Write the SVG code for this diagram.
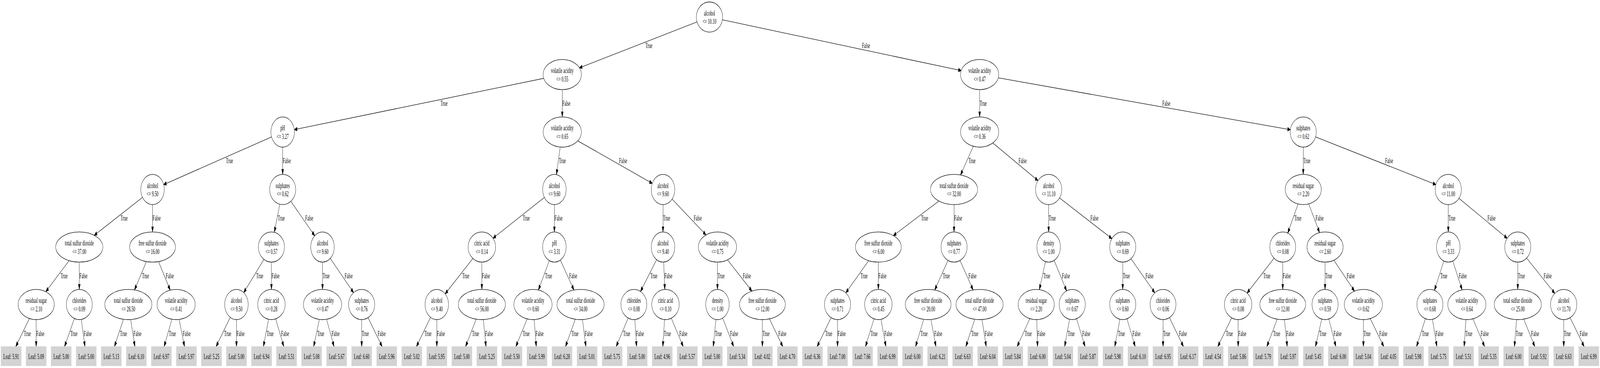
<svg xmlns="http://www.w3.org/2000/svg" width="7667" height="943" viewBox="0 0 7667 943" preserveAspectRatio="none">
<style>
:root{width:100vw;height:100vh}
text{font-family:"Liberation Serif","Times New Roman",serif;font-size:18.2px;fill:#000}
.n ellipse{fill:#fff;stroke:#000;stroke-width:1.3}
.n text,.lf text{text-anchor:middle}
.lf rect{fill:#d3d3d3;stroke:#d3d3d3;stroke-width:1.3}
#edges path{fill:none;stroke:#000;stroke-width:1.3;marker-end:url(#ah)}
#edges text{text-anchor:start}
</style>
<defs>
<marker id="ah" markerUnits="userSpaceOnUse" viewBox="0 -6 14 12" refX="13" refY="0" markerWidth="14" markerHeight="12" orient="auto" overflow="visible">
<path d="M0,-4.55 L13,0 L0,4.55 Z" fill="#000" stroke="#000" stroke-width="1.3"/>
</marker>
</defs>
<rect width="7667" height="943" fill="#fff"/>
<g id="edges">
<path d="M3399.7,43.7 L2776.35,173.87"/><text x="3092.5" y="123.35">True</text>
<path d="M3399.7,43.7 L4606.04,180.95"/><text x="4130.6" y="123.35">False</text>
<path d="M2694.3,191 L1410.39,332.17"/><text x="2110.9" y="270.65">True</text>
<path d="M2694.3,191 L2694.3,299.6"/><text x="2694.8" y="270.65">False</text>
<path d="M4694.4,191 L4694.4,299.6"/><text x="4694.9" y="270.65">True</text>
<path d="M4694.4,191 L6183.22,332.43"/><text x="5569.7" y="270.65">False</text>
<path d="M1354.6,338.3 L783.99,473.08"/><text x="1083" y="417.95">True</text>
<path d="M1354.6,338.3 L1354.6,446.9"/><text x="1355.1" y="417.95">False</text>
<path d="M2694.3,338.3 L2666.35,447.49"/><text x="2677.9" y="417.95">True</text>
<path d="M2694.3,338.3 L3125.77,469.97"/><text x="2966.8" y="417.95">False</text>
<path d="M4694.4,338.3 L4602.7,448.38"/><text x="4641" y="417.95">True</text>
<path d="M4694.4,338.3 L4974,462.88"/><text x="4881" y="417.95">False</text>
<path d="M6245,338.3 L6245,446.9"/><text x="6245.5" y="417.95">True</text>
<path d="M6245,338.3 L6880.45,472.98"/><text x="6637.3" y="417.95">False</text>
<path d="M731,485.6 L451.45,603.02"/><text x="578.1" y="565.25">True</text>
<path d="M731,485.6 L731,594.3"/><text x="731.5" y="565.25">False</text>
<path d="M1354.6,485.6 L1314.51,595.26"/><text x="1331.1" y="565.25">True</text>
<path d="M1354.6,485.6 L1508.14,604.17"/><text x="1462.4" y="565.25">False</text>
<path d="M2656.6,485.6 L2362.38,610.38"/><text x="2505.2" y="565.25">True</text>
<path d="M2656.6,485.6 L2656.6,594.3"/><text x="2657.1" y="565.25">False</text>
<path d="M3177,485.6 L3177,594.3"/><text x="3177.5" y="565.25">True</text>
<path d="M3177,485.6 L3383.13,602.03"/><text x="3324.3" y="565.25">False</text>
<path d="M4571.7,485.6 L4280.97,603.77"/><text x="4413.7" y="565.25">True</text>
<path d="M4571.7,485.6 L4571.7,594.3"/><text x="4572.2" y="565.25">False</text>
<path d="M5025,485.6 L5025,594.3"/><text x="5025.5" y="565.25">True</text>
<path d="M5025,485.6 L5328.08,611.46"/><text x="5225.4" y="565.25">False</text>
<path d="M6245,485.6 L6170.62,597.27"/><text x="6202.2" y="565.25">True</text>
<path d="M6245,485.6 L6323.33,596.11"/><text x="6304" y="565.25">False</text>
<path d="M6940,485.6 L6940,594.3"/><text x="6940.5" y="565.25">True</text>
<path d="M6940,485.6 L7222.14,610.5"/><text x="7128" y="565.25">False</text>
<path d="M380,633 L219.46,747.52"/><text x="290.1" y="712.65">True</text>
<path d="M380,633 L380,741.6"/><text x="380.5" y="712.65">False</text>
<path d="M731,633 L644.43,742.93"/><text x="680.5" y="712.65">True</text>
<path d="M731,633 L815.76,743.49"/><text x="794.8" y="712.65">False</text>
<path d="M1300.7,633 L1167.63,749.89"/><text x="1227.7" y="712.65">True</text>
<path d="M1300.7,633 L1300.7,741.6"/><text x="1301.2" y="712.65">False</text>
<path d="M1545.5,633 L1545.5,741.6"/><text x="1546" y="712.65">True</text>
<path d="M1545.5,633 L1694.31,749.91"/><text x="1651.3" y="712.65">False</text>
<path d="M2309,633 L2132.86,753.12"/><text x="2214.9" y="712.65">True</text>
<path d="M2309,633 L2309,741.6"/><text x="2309.5" y="712.65">False</text>
<path d="M2656.6,633 L2579.86,743.18"/><text x="2611.9" y="712.65">True</text>
<path d="M2656.6,633 L2750.37,743.15"/><text x="2727.4" y="712.65">False</text>
<path d="M3177,633 L3069.05,746.99"/><text x="3116.3" y="712.65">True</text>
<path d="M3177,633 L3185.85,741.64"/><text x="3183.8" y="712.65">False</text>
<path d="M3438,633 L3438,741.6"/><text x="3438.5" y="712.65">True</text>
<path d="M3438,633 L3603.18,745.9"/><text x="3559.7" y="712.65">False</text>
<path d="M4209,633 L4053.01,750.41"/><text x="4123.8" y="712.65">True</text>
<path d="M4209,633 L4209,741.6"/><text x="4209.5" y="712.65">False</text>
<path d="M4571.7,633 L4478.93,743.2"/><text x="4517.7" y="712.65">True</text>
<path d="M4571.7,633 L4663.09,743.07"/><text x="4640.7" y="712.65">False</text>
<path d="M5025,633 L4980.5,742.24"/><text x="4999" y="712.65">True</text>
<path d="M5025,633 L5111.18,745.34"/><text x="5088.8" y="712.65">False</text>
<path d="M5380,633 L5380,741.6"/><text x="5380.5" y="712.65">True</text>
<path d="M5380,633 L5533.75,750.34"/><text x="5489" y="712.65">False</text>
<path d="M6146.8,633 L5975.72,750.87"/><text x="6053.7" y="712.65">True</text>
<path d="M6146.8,633 L6146.8,741.6"/><text x="6147.3" y="712.65">False</text>
<path d="M6349.5,633 L6349.5,741.6"/><text x="6350" y="712.65">True</text>
<path d="M6349.5,633 L6490.51,746.07"/><text x="6453.2" y="712.65">False</text>
<path d="M6940,633 L6873.68,744"/><text x="6901.7" y="712.65">True</text>
<path d="M6940,633 L7006.35,742.8"/><text x="6990.2" y="712.65">False</text>
<path d="M7273,633 L7273,741.6"/><text x="7273.5" y="712.65">True</text>
<path d="M7273,633 L7450.41,751.78"/><text x="7397.2" y="712.65">False</text>
<path d="M173.5,780.3 L75.45,888.2"/><text x="114.3" y="861">True</text>
<path d="M173.5,780.3 L173.4,888.2"/><text x="173.9" y="861">False</text>
<path d="M380,780.3 L309.28,888.2"/><text x="337.3" y="861">True</text>
<path d="M380,780.3 L407.16,888.2"/><text x="401.2" y="861">False</text>
<path d="M615,780.3 L548.36,888.2"/><text x="574.8" y="861">True</text>
<path d="M615,780.3 L646.24,888.2"/><text x="639.4" y="861">False</text>
<path d="M844,780.3 L786.33,888.2"/><text x="809.2" y="861">True</text>
<path d="M844,780.3 L884.21,888.2"/><text x="875.4" y="861">False</text>
<path d="M1133,780.3 L1035.36,888.2"/><text x="1074.1" y="861">True</text>
<path d="M1133,780.3 L1133.24,888.2"/><text x="1133.7" y="861">False</text>
<path d="M1300.7,780.3 L1262.04,888.2"/><text x="1277.4" y="861">True</text>
<path d="M1300.7,780.3 L1359.92,888.2"/><text x="1346.9" y="861">False</text>
<path d="M1545.5,780.3 L1502.92,888.2"/><text x="1519.8" y="861">True</text>
<path d="M1545.5,780.3 L1600.8,888.2"/><text x="1588.6" y="861">False</text>
<path d="M1733,780.3 L1733.24,888.2"/><text x="1733.7" y="861">True</text>
<path d="M1733,780.3 L1831.13,888.2"/><text x="1809.5" y="861">False</text>
<path d="M2093,780.3 L1995.36,888.2"/><text x="2034.1" y="861">True</text>
<path d="M2093,780.3 L2093.24,888.2"/><text x="2093.7" y="861">False</text>
<path d="M2309,780.3 L2230.94,888.2"/><text x="2261.9" y="861">True</text>
<path d="M2309,780.3 L2328.82,888.2"/><text x="2324.5" y="861">False</text>
<path d="M2554,780.3 L2471.86,888.2"/><text x="2504.4" y="861">True</text>
<path d="M2554,780.3 L2569.74,888.2"/><text x="2566.3" y="861">False</text>
<path d="M2782,780.3 L2709.65,888.2"/><text x="2738.3" y="861">True</text>
<path d="M2782,780.3 L2807.53,888.2"/><text x="2801.9" y="861">False</text>
<path d="M3037.5,780.3 L2952.5,888.2"/><text x="2986.2" y="861">True</text>
<path d="M3037.5,780.3 L3050.39,888.2"/><text x="3047.6" y="861">False</text>
<path d="M3189,780.3 L3176.19,888.2"/><text x="3181.3" y="861">True</text>
<path d="M3189,780.3 L3274.08,888.2"/><text x="3255.3" y="861">False</text>
<path d="M3438,780.3 L3417.85,888.2"/><text x="3425.8" y="861">True</text>
<path d="M3438,780.3 L3515.74,888.2"/><text x="3498.6" y="861">False</text>
<path d="M3653.5,780.3 L3653.34,888.2"/><text x="3653.9" y="861">True</text>
<path d="M3653.5,780.3 L3751.22,888.2"/><text x="3729.7" y="861">False</text>
<path d="M4013.3,780.3 L3915.42,888.2"/><text x="3954.2" y="861">True</text>
<path d="M4013.3,780.3 L4013.3,888.2"/><text x="4013.8" y="861">False</text>
<path d="M4209,780.3 L4147.25,888.2"/><text x="4171.7" y="861">True</text>
<path d="M4209,780.3 L4245.14,888.2"/><text x="4237.2" y="861">False</text>
<path d="M4447.7,780.3 L4387.01,888.2"/><text x="4411.1" y="861">True</text>
<path d="M4447.7,780.3 L4484.9,888.2"/><text x="4476.7" y="861">False</text>
<path d="M4694,780.3 L4628.17,888.2"/><text x="4654.3" y="861">True</text>
<path d="M4694,780.3 L4726.06,888.2"/><text x="4719" y="861">False</text>
<path d="M4965.5,780.3 L4874,888.2"/><text x="4910.2" y="861">True</text>
<path d="M4965.5,780.3 L4971.9,888.2"/><text x="4970.5" y="861">False</text>
<path d="M5138,780.3 L5101.54,888.2"/><text x="5116" y="861">True</text>
<path d="M5138,780.3 L5199.42,888.2"/><text x="5185.9" y="861">False</text>
<path d="M5380,780.3 L5341.91,888.2"/><text x="5357" y="861">True</text>
<path d="M5380,780.3 L5439.79,888.2"/><text x="5426.6" y="861">False</text>
<path d="M5573,780.3 L5573.24,888.2"/><text x="5573.7" y="861">True</text>
<path d="M5573,780.3 L5671.13,888.2"/><text x="5649.5" y="861">False</text>
<path d="M5933,780.3 L5835.36,888.2"/><text x="5874.1" y="861">True</text>
<path d="M5933,780.3 L5933.24,888.2"/><text x="5933.7" y="861">False</text>
<path d="M6146.8,780.3 L6070.53,888.2"/><text x="6100.8" y="861">True</text>
<path d="M6146.8,780.3 L6168.42,888.2"/><text x="6163.7" y="861">False</text>
<path d="M6349.5,780.3 L6303.66,888.2"/><text x="6321.8" y="861">True</text>
<path d="M6349.5,780.3 L6401.54,888.2"/><text x="6390.1" y="861">False</text>
<path d="M6533.2,780.3 L6533.28,888.2"/><text x="6533.7" y="861">True</text>
<path d="M6533.2,780.3 L6631.17,888.2"/><text x="6609.6" y="861">False</text>
<path d="M6852,780.3 L6787.8,888.2"/><text x="6813.3" y="861">True</text>
<path d="M6852,780.3 L6885.69,888.2"/><text x="6878.3" y="861">False</text>
<path d="M7029,780.3 L7016.19,888.2"/><text x="7021.3" y="861">True</text>
<path d="M7029,780.3 L7114.08,888.2"/><text x="7095.3" y="861">False</text>
<path d="M7273,780.3 L7256.93,888.2"/><text x="7263.3" y="861">True</text>
<path d="M7273,780.3 L7354.81,888.2"/><text x="7336.8" y="861">False</text>
<path d="M7493,780.3 L7493.24,888.2"/><text x="7493.7" y="861">True</text>
<path d="M7493,780.3 L7591.13,888.2"/><text x="7569.5" y="861">False</text>
</g>
<g id="nodes">
<g id="n0" class="n" transform="translate(3399.7,43.7)"><ellipse rx="63" ry="38.7"/><text y="-4">alcohol</text><text y="17.8">&lt;= 10.10</text></g>
<g id="n1" class="n" transform="translate(2694.3,191)"><ellipse rx="91.5" ry="38.7"/><text y="-4">volatile acidity</text><text y="17.8">&lt;= 0.55</text></g>
<g id="n2" class="n" transform="translate(4694.4,191)"><ellipse rx="91.5" ry="38.7"/><text y="-4">volatile acidity</text><text y="17.8">&lt;= 0.47</text></g>
<g id="n3" class="n" transform="translate(1354.6,338.3)"><ellipse rx="56.3" ry="38.7"/><text y="-4">pH</text><text y="17.8">&lt;= 3.27</text></g>
<g id="n4" class="n" transform="translate(2694.3,338.3)"><ellipse rx="91.5" ry="38.7"/><text y="-4">volatile acidity</text><text y="17.8">&lt;= 0.65</text></g>
<g id="n5" class="n" transform="translate(4694.4,338.3)"><ellipse rx="91.5" ry="38.7"/><text y="-4">volatile acidity</text><text y="17.8">&lt;= 0.36</text></g>
<g id="n6" class="n" transform="translate(6245,338.3)"><ellipse rx="62.5" ry="38.7"/><text y="-4">sulphates</text><text y="17.8">&lt;= 0.62</text></g>
<g id="n7" class="n" transform="translate(731,485.6)"><ellipse rx="56.3" ry="38.7"/><text y="-4">alcohol</text><text y="17.8">&lt;= 9.50</text></g>
<g id="n8" class="n" transform="translate(1354.6,485.6)"><ellipse rx="62.5" ry="38.7"/><text y="-4">sulphates</text><text y="17.8">&lt;= 0.62</text></g>
<g id="n9" class="n" transform="translate(2656.6,485.6)"><ellipse rx="56.3" ry="38.7"/><text y="-4">alcohol</text><text y="17.8">&lt;= 9.60</text></g>
<g id="n10" class="n" transform="translate(3177,485.6)"><ellipse rx="56.3" ry="38.7"/><text y="-4">alcohol</text><text y="17.8">&lt;= 9.60</text></g>
<g id="n11" class="n" transform="translate(4571.7,485.6)"><ellipse rx="113" ry="38.7"/><text y="-4">total sulfur dioxide</text><text y="17.8">&lt;= 32.00</text></g>
<g id="n12" class="n" transform="translate(5025,485.6)"><ellipse rx="63" ry="38.7"/><text y="-4">alcohol</text><text y="17.8">&lt;= 11.10</text></g>
<g id="n13" class="n" transform="translate(6245,485.6)"><ellipse rx="86.5" ry="38.7"/><text y="-4">residual sugar</text><text y="17.8">&lt;= 2.20</text></g>
<g id="n14" class="n" transform="translate(6940,485.6)"><ellipse rx="63" ry="38.7"/><text y="-4">alcohol</text><text y="17.8">&lt;= 11.00</text></g>
<g id="n15" class="n" transform="translate(380,633)"><ellipse rx="113" ry="38.7"/><text y="-4">total sulfur dioxide</text><text y="17.8">&lt;= 37.00</text></g>
<g id="n16" class="n" transform="translate(731,633)"><ellipse rx="109.8" ry="38.7"/><text y="-4">free sulfur dioxide</text><text y="17.8">&lt;= 16.00</text></g>
<g id="n17" class="n" transform="translate(1300.7,633)"><ellipse rx="62.5" ry="38.7"/><text y="-4">sulphates</text><text y="17.8">&lt;= 0.57</text></g>
<g id="n18" class="n" transform="translate(1545.5,633)"><ellipse rx="56.3" ry="38.7"/><text y="-4">alcohol</text><text y="17.8">&lt;= 9.60</text></g>
<g id="n19" class="n" transform="translate(2309,633)"><ellipse rx="65.8" ry="38.7"/><text y="-4">citric acid</text><text y="17.8">&lt;= 0.14</text></g>
<g id="n20" class="n" transform="translate(2656.6,633)"><ellipse rx="56.3" ry="38.7"/><text y="-4">pH</text><text y="17.8">&lt;= 3.31</text></g>
<g id="n21" class="n" transform="translate(3177,633)"><ellipse rx="56.3" ry="38.7"/><text y="-4">alcohol</text><text y="17.8">&lt;= 9.40</text></g>
<g id="n22" class="n" transform="translate(3438,633)"><ellipse rx="91.5" ry="38.7"/><text y="-4">volatile acidity</text><text y="17.8">&lt;= 0.75</text></g>
<g id="n23" class="n" transform="translate(4209,633)"><ellipse rx="109.8" ry="38.7"/><text y="-4">free sulfur dioxide</text><text y="17.8">&lt;= 6.00</text></g>
<g id="n24" class="n" transform="translate(4571.7,633)"><ellipse rx="62.5" ry="38.7"/><text y="-4">sulphates</text><text y="17.8">&lt;= 0.77</text></g>
<g id="n25" class="n" transform="translate(5025,633)"><ellipse rx="56.3" ry="38.7"/><text y="-4">density</text><text y="17.8">&lt;= 1.00</text></g>
<g id="n26" class="n" transform="translate(5380,633)"><ellipse rx="62.5" ry="38.7"/><text y="-4">sulphates</text><text y="17.8">&lt;= 0.69</text></g>
<g id="n27" class="n" transform="translate(6146.8,633)"><ellipse rx="62" ry="38.7"/><text y="-4">chlorides</text><text y="17.8">&lt;= 0.08</text></g>
<g id="n28" class="n" transform="translate(6349.5,633)"><ellipse rx="86.5" ry="38.7"/><text y="-4">residual sugar</text><text y="17.8">&lt;= 2.60</text></g>
<g id="n29" class="n" transform="translate(6940,633)"><ellipse rx="56.3" ry="38.7"/><text y="-4">pH</text><text y="17.8">&lt;= 3.33</text></g>
<g id="n30" class="n" transform="translate(7273,633)"><ellipse rx="62.5" ry="38.7"/><text y="-4">sulphates</text><text y="17.8">&lt;= 0.72</text></g>
<g id="n31" class="n" transform="translate(173.5,780.3)"><ellipse rx="86.5" ry="38.7"/><text y="-4">residual sugar</text><text y="17.8">&lt;= 2.10</text></g>
<g id="n32" class="n" transform="translate(380,780.3)"><ellipse rx="62" ry="38.7"/><text y="-4">chlorides</text><text y="17.8">&lt;= 0.09</text></g>
<g id="n33" class="n" transform="translate(615,780.3)"><ellipse rx="113" ry="38.7"/><text y="-4">total sulfur dioxide</text><text y="17.8">&lt;= 28.50</text></g>
<g id="n34" class="n" transform="translate(844,780.3)"><ellipse rx="91.5" ry="38.7"/><text y="-4">volatile acidity</text><text y="17.8">&lt;= 0.41</text></g>
<g id="n35" class="n" transform="translate(1133,780.3)"><ellipse rx="56.3" ry="38.7"/><text y="-4">alcohol</text><text y="17.8">&lt;= 9.50</text></g>
<g id="n36" class="n" transform="translate(1300.7,780.3)"><ellipse rx="65.8" ry="38.7"/><text y="-4">citric acid</text><text y="17.8">&lt;= 0.28</text></g>
<g id="n37" class="n" transform="translate(1545.5,780.3)"><ellipse rx="91.5" ry="38.7"/><text y="-4">volatile acidity</text><text y="17.8">&lt;= 0.47</text></g>
<g id="n38" class="n" transform="translate(1733,780.3)"><ellipse rx="62.5" ry="38.7"/><text y="-4">sulphates</text><text y="17.8">&lt;= 0.76</text></g>
<g id="n39" class="n" transform="translate(2093,780.3)"><ellipse rx="56.3" ry="38.7"/><text y="-4">alcohol</text><text y="17.8">&lt;= 9.40</text></g>
<g id="n40" class="n" transform="translate(2309,780.3)"><ellipse rx="113" ry="38.7"/><text y="-4">total sulfur dioxide</text><text y="17.8">&lt;= 56.00</text></g>
<g id="n41" class="n" transform="translate(2554,780.3)"><ellipse rx="91.5" ry="38.7"/><text y="-4">volatile acidity</text><text y="17.8">&lt;= 0.60</text></g>
<g id="n42" class="n" transform="translate(2782,780.3)"><ellipse rx="113" ry="38.7"/><text y="-4">total sulfur dioxide</text><text y="17.8">&lt;= 34.00</text></g>
<g id="n43" class="n" transform="translate(3037.5,780.3)"><ellipse rx="62" ry="38.7"/><text y="-4">chlorides</text><text y="17.8">&lt;= 0.08</text></g>
<g id="n44" class="n" transform="translate(3189,780.3)"><ellipse rx="65.8" ry="38.7"/><text y="-4">citric acid</text><text y="17.8">&lt;= 0.10</text></g>
<g id="n45" class="n" transform="translate(3438,780.3)"><ellipse rx="56.3" ry="38.7"/><text y="-4">density</text><text y="17.8">&lt;= 1.00</text></g>
<g id="n46" class="n" transform="translate(3653.5,780.3)"><ellipse rx="109.8" ry="38.7"/><text y="-4">free sulfur dioxide</text><text y="17.8">&lt;= 12.00</text></g>
<g id="n47" class="n" transform="translate(4013.3,780.3)"><ellipse rx="62.5" ry="38.7"/><text y="-4">sulphates</text><text y="17.8">&lt;= 0.71</text></g>
<g id="n48" class="n" transform="translate(4209,780.3)"><ellipse rx="65.8" ry="38.7"/><text y="-4">citric acid</text><text y="17.8">&lt;= 0.45</text></g>
<g id="n49" class="n" transform="translate(4447.7,780.3)"><ellipse rx="109.8" ry="38.7"/><text y="-4">free sulfur dioxide</text><text y="17.8">&lt;= 20.00</text></g>
<g id="n50" class="n" transform="translate(4694,780.3)"><ellipse rx="113" ry="38.7"/><text y="-4">total sulfur dioxide</text><text y="17.8">&lt;= 47.00</text></g>
<g id="n51" class="n" transform="translate(4965.5,780.3)"><ellipse rx="86.5" ry="38.7"/><text y="-4">residual sugar</text><text y="17.8">&lt;= 2.20</text></g>
<g id="n52" class="n" transform="translate(5138,780.3)"><ellipse rx="62.5" ry="38.7"/><text y="-4">sulphates</text><text y="17.8">&lt;= 0.67</text></g>
<g id="n53" class="n" transform="translate(5380,780.3)"><ellipse rx="62.5" ry="38.7"/><text y="-4">sulphates</text><text y="17.8">&lt;= 0.60</text></g>
<g id="n54" class="n" transform="translate(5573,780.3)"><ellipse rx="62" ry="38.7"/><text y="-4">chlorides</text><text y="17.8">&lt;= 0.06</text></g>
<g id="n55" class="n" transform="translate(5933,780.3)"><ellipse rx="65.8" ry="38.7"/><text y="-4">citric acid</text><text y="17.8">&lt;= 0.08</text></g>
<g id="n56" class="n" transform="translate(6146.8,780.3)"><ellipse rx="109.8" ry="38.7"/><text y="-4">free sulfur dioxide</text><text y="17.8">&lt;= 12.00</text></g>
<g id="n57" class="n" transform="translate(6349.5,780.3)"><ellipse rx="62.5" ry="38.7"/><text y="-4">sulphates</text><text y="17.8">&lt;= 0.59</text></g>
<g id="n58" class="n" transform="translate(6533.2,780.3)"><ellipse rx="91.5" ry="38.7"/><text y="-4">volatile acidity</text><text y="17.8">&lt;= 0.62</text></g>
<g id="n59" class="n" transform="translate(6852,780.3)"><ellipse rx="62.5" ry="38.7"/><text y="-4">sulphates</text><text y="17.8">&lt;= 0.68</text></g>
<g id="n60" class="n" transform="translate(7029,780.3)"><ellipse rx="91.5" ry="38.7"/><text y="-4">volatile acidity</text><text y="17.8">&lt;= 0.64</text></g>
<g id="n61" class="n" transform="translate(7273,780.3)"><ellipse rx="113" ry="38.7"/><text y="-4">total sulfur dioxide</text><text y="17.8">&lt;= 25.00</text></g>
<g id="n62" class="n" transform="translate(7493,780.3)"><ellipse rx="63" ry="38.7"/><text y="-4">alcohol</text><text y="17.8">&lt;= 11.70</text></g>
</g>
<g id="leaves">
<g id="leaf0" class="lf" transform="translate(53.3,912.7)"><rect x="-48.35" y="-24.5" width="96.7" height="49"/><text y="7.2">Leaf: 5.91</text></g>
<g id="leaf1" class="lf" transform="translate(173.3,912.7)"><rect x="-48.35" y="-24.5" width="96.7" height="49"/><text y="7.2">Leaf: 5.09</text></g>
<g id="leaf2" class="lf" transform="translate(293.3,912.7)"><rect x="-48.35" y="-24.5" width="96.7" height="49"/><text y="7.2">Leaf: 5.00</text></g>
<g id="leaf3" class="lf" transform="translate(413.3,912.7)"><rect x="-48.35" y="-24.5" width="96.7" height="49"/><text y="7.2">Leaf: 5.00</text></g>
<g id="leaf4" class="lf" transform="translate(533.3,912.7)"><rect x="-48.35" y="-24.5" width="96.7" height="49"/><text y="7.2">Leaf: 5.13</text></g>
<g id="leaf5" class="lf" transform="translate(653.3,912.7)"><rect x="-48.35" y="-24.5" width="96.7" height="49"/><text y="7.2">Leaf: 6.10</text></g>
<g id="leaf6" class="lf" transform="translate(773.3,912.7)"><rect x="-48.35" y="-24.5" width="96.7" height="49"/><text y="7.2">Leaf: 6.97</text></g>
<g id="leaf7" class="lf" transform="translate(893.3,912.7)"><rect x="-48.35" y="-24.5" width="96.7" height="49"/><text y="7.2">Leaf: 5.97</text></g>
<g id="leaf8" class="lf" transform="translate(1013.3,912.7)"><rect x="-48.35" y="-24.5" width="96.7" height="49"/><text y="7.2">Leaf: 5.25</text></g>
<g id="leaf9" class="lf" transform="translate(1133.3,912.7)"><rect x="-48.35" y="-24.5" width="96.7" height="49"/><text y="7.2">Leaf: 5.00</text></g>
<g id="leaf10" class="lf" transform="translate(1253.3,912.7)"><rect x="-48.35" y="-24.5" width="96.7" height="49"/><text y="7.2">Leaf: 6.94</text></g>
<g id="leaf11" class="lf" transform="translate(1373.3,912.7)"><rect x="-48.35" y="-24.5" width="96.7" height="49"/><text y="7.2">Leaf: 5.51</text></g>
<g id="leaf12" class="lf" transform="translate(1493.3,912.7)"><rect x="-48.35" y="-24.5" width="96.7" height="49"/><text y="7.2">Leaf: 5.08</text></g>
<g id="leaf13" class="lf" transform="translate(1613.3,912.7)"><rect x="-48.35" y="-24.5" width="96.7" height="49"/><text y="7.2">Leaf: 5.67</text></g>
<g id="leaf14" class="lf" transform="translate(1733.3,912.7)"><rect x="-48.35" y="-24.5" width="96.7" height="49"/><text y="7.2">Leaf: 6.60</text></g>
<g id="leaf15" class="lf" transform="translate(1853.3,912.7)"><rect x="-48.35" y="-24.5" width="96.7" height="49"/><text y="7.2">Leaf: 5.96</text></g>
<g id="leaf16" class="lf" transform="translate(1973.3,912.7)"><rect x="-48.35" y="-24.5" width="96.7" height="49"/><text y="7.2">Leaf: 5.02</text></g>
<g id="leaf17" class="lf" transform="translate(2093.3,912.7)"><rect x="-48.35" y="-24.5" width="96.7" height="49"/><text y="7.2">Leaf: 5.95</text></g>
<g id="leaf18" class="lf" transform="translate(2213.3,912.7)"><rect x="-48.35" y="-24.5" width="96.7" height="49"/><text y="7.2">Leaf: 5.00</text></g>
<g id="leaf19" class="lf" transform="translate(2333.3,912.7)"><rect x="-48.35" y="-24.5" width="96.7" height="49"/><text y="7.2">Leaf: 5.25</text></g>
<g id="leaf20" class="lf" transform="translate(2453.3,912.7)"><rect x="-48.35" y="-24.5" width="96.7" height="49"/><text y="7.2">Leaf: 5.50</text></g>
<g id="leaf21" class="lf" transform="translate(2573.3,912.7)"><rect x="-48.35" y="-24.5" width="96.7" height="49"/><text y="7.2">Leaf: 5.99</text></g>
<g id="leaf22" class="lf" transform="translate(2693.3,912.7)"><rect x="-48.35" y="-24.5" width="96.7" height="49"/><text y="7.2">Leaf: 6.28</text></g>
<g id="leaf23" class="lf" transform="translate(2813.3,912.7)"><rect x="-48.35" y="-24.5" width="96.7" height="49"/><text y="7.2">Leaf: 5.01</text></g>
<g id="leaf24" class="lf" transform="translate(2933.3,912.7)"><rect x="-48.35" y="-24.5" width="96.7" height="49"/><text y="7.2">Leaf: 5.75</text></g>
<g id="leaf25" class="lf" transform="translate(3053.3,912.7)"><rect x="-48.35" y="-24.5" width="96.7" height="49"/><text y="7.2">Leaf: 5.00</text></g>
<g id="leaf26" class="lf" transform="translate(3173.3,912.7)"><rect x="-48.35" y="-24.5" width="96.7" height="49"/><text y="7.2">Leaf: 4.96</text></g>
<g id="leaf27" class="lf" transform="translate(3293.3,912.7)"><rect x="-48.35" y="-24.5" width="96.7" height="49"/><text y="7.2">Leaf: 5.57</text></g>
<g id="leaf28" class="lf" transform="translate(3413.3,912.7)"><rect x="-48.35" y="-24.5" width="96.7" height="49"/><text y="7.2">Leaf: 5.00</text></g>
<g id="leaf29" class="lf" transform="translate(3533.3,912.7)"><rect x="-48.35" y="-24.5" width="96.7" height="49"/><text y="7.2">Leaf: 5.34</text></g>
<g id="leaf30" class="lf" transform="translate(3653.3,912.7)"><rect x="-48.35" y="-24.5" width="96.7" height="49"/><text y="7.2">Leaf: 4.02</text></g>
<g id="leaf31" class="lf" transform="translate(3773.3,912.7)"><rect x="-48.35" y="-24.5" width="96.7" height="49"/><text y="7.2">Leaf: 4.70</text></g>
<g id="leaf32" class="lf" transform="translate(3893.3,912.7)"><rect x="-48.35" y="-24.5" width="96.7" height="49"/><text y="7.2">Leaf: 6.36</text></g>
<g id="leaf33" class="lf" transform="translate(4013.3,912.7)"><rect x="-48.35" y="-24.5" width="96.7" height="49"/><text y="7.2">Leaf: 7.00</text></g>
<g id="leaf34" class="lf" transform="translate(4133.3,912.7)"><rect x="-48.35" y="-24.5" width="96.7" height="49"/><text y="7.2">Leaf: 7.66</text></g>
<g id="leaf35" class="lf" transform="translate(4253.3,912.7)"><rect x="-48.35" y="-24.5" width="96.7" height="49"/><text y="7.2">Leaf: 6.99</text></g>
<g id="leaf36" class="lf" transform="translate(4373.3,912.7)"><rect x="-48.35" y="-24.5" width="96.7" height="49"/><text y="7.2">Leaf: 6.00</text></g>
<g id="leaf37" class="lf" transform="translate(4493.3,912.7)"><rect x="-48.35" y="-24.5" width="96.7" height="49"/><text y="7.2">Leaf: 6.21</text></g>
<g id="leaf38" class="lf" transform="translate(4613.3,912.7)"><rect x="-48.35" y="-24.5" width="96.7" height="49"/><text y="7.2">Leaf: 6.63</text></g>
<g id="leaf39" class="lf" transform="translate(4733.3,912.7)"><rect x="-48.35" y="-24.5" width="96.7" height="49"/><text y="7.2">Leaf: 6.04</text></g>
<g id="leaf40" class="lf" transform="translate(4853.3,912.7)"><rect x="-48.35" y="-24.5" width="96.7" height="49"/><text y="7.2">Leaf: 5.84</text></g>
<g id="leaf41" class="lf" transform="translate(4973.3,912.7)"><rect x="-48.35" y="-24.5" width="96.7" height="49"/><text y="7.2">Leaf: 6.00</text></g>
<g id="leaf42" class="lf" transform="translate(5093.3,912.7)"><rect x="-48.35" y="-24.5" width="96.7" height="49"/><text y="7.2">Leaf: 5.04</text></g>
<g id="leaf43" class="lf" transform="translate(5213.3,912.7)"><rect x="-48.35" y="-24.5" width="96.7" height="49"/><text y="7.2">Leaf: 5.87</text></g>
<g id="leaf44" class="lf" transform="translate(5333.3,912.7)"><rect x="-48.35" y="-24.5" width="96.7" height="49"/><text y="7.2">Leaf: 5.98</text></g>
<g id="leaf45" class="lf" transform="translate(5453.3,912.7)"><rect x="-48.35" y="-24.5" width="96.7" height="49"/><text y="7.2">Leaf: 6.10</text></g>
<g id="leaf46" class="lf" transform="translate(5573.3,912.7)"><rect x="-48.35" y="-24.5" width="96.7" height="49"/><text y="7.2">Leaf: 6.95</text></g>
<g id="leaf47" class="lf" transform="translate(5693.3,912.7)"><rect x="-48.35" y="-24.5" width="96.7" height="49"/><text y="7.2">Leaf: 6.17</text></g>
<g id="leaf48" class="lf" transform="translate(5813.3,912.7)"><rect x="-48.35" y="-24.5" width="96.7" height="49"/><text y="7.2">Leaf: 4.54</text></g>
<g id="leaf49" class="lf" transform="translate(5933.3,912.7)"><rect x="-48.35" y="-24.5" width="96.7" height="49"/><text y="7.2">Leaf: 5.86</text></g>
<g id="leaf50" class="lf" transform="translate(6053.3,912.7)"><rect x="-48.35" y="-24.5" width="96.7" height="49"/><text y="7.2">Leaf: 5.79</text></g>
<g id="leaf51" class="lf" transform="translate(6173.3,912.7)"><rect x="-48.35" y="-24.5" width="96.7" height="49"/><text y="7.2">Leaf: 5.97</text></g>
<g id="leaf52" class="lf" transform="translate(6293.3,912.7)"><rect x="-48.35" y="-24.5" width="96.7" height="49"/><text y="7.2">Leaf: 5.45</text></g>
<g id="leaf53" class="lf" transform="translate(6413.3,912.7)"><rect x="-48.35" y="-24.5" width="96.7" height="49"/><text y="7.2">Leaf: 6.00</text></g>
<g id="leaf54" class="lf" transform="translate(6533.3,912.7)"><rect x="-48.35" y="-24.5" width="96.7" height="49"/><text y="7.2">Leaf: 5.04</text></g>
<g id="leaf55" class="lf" transform="translate(6653.3,912.7)"><rect x="-48.35" y="-24.5" width="96.7" height="49"/><text y="7.2">Leaf: 4.05</text></g>
<g id="leaf56" class="lf" transform="translate(6773.3,912.7)"><rect x="-48.35" y="-24.5" width="96.7" height="49"/><text y="7.2">Leaf: 5.98</text></g>
<g id="leaf57" class="lf" transform="translate(6893.3,912.7)"><rect x="-48.35" y="-24.5" width="96.7" height="49"/><text y="7.2">Leaf: 5.75</text></g>
<g id="leaf58" class="lf" transform="translate(7013.3,912.7)"><rect x="-48.35" y="-24.5" width="96.7" height="49"/><text y="7.2">Leaf: 5.51</text></g>
<g id="leaf59" class="lf" transform="translate(7133.3,912.7)"><rect x="-48.35" y="-24.5" width="96.7" height="49"/><text y="7.2">Leaf: 5.35</text></g>
<g id="leaf60" class="lf" transform="translate(7253.3,912.7)"><rect x="-48.35" y="-24.5" width="96.7" height="49"/><text y="7.2">Leaf: 6.00</text></g>
<g id="leaf61" class="lf" transform="translate(7373.3,912.7)"><rect x="-48.35" y="-24.5" width="96.7" height="49"/><text y="7.2">Leaf: 5.92</text></g>
<g id="leaf62" class="lf" transform="translate(7493.3,912.7)"><rect x="-48.35" y="-24.5" width="96.7" height="49"/><text y="7.2">Leaf: 6.63</text></g>
<g id="leaf63" class="lf" transform="translate(7613.3,912.7)"><rect x="-48.35" y="-24.5" width="96.7" height="49"/><text y="7.2">Leaf: 6.99</text></g>
</g>
</svg>
